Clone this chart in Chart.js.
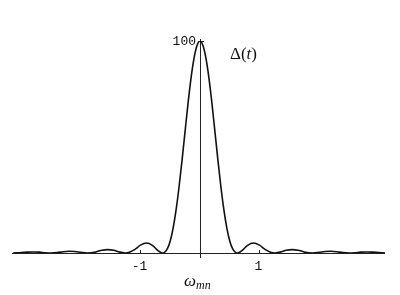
<!DOCTYPE html>
<html>
<head>
<meta charset="utf-8">
<script src="https://cdn.jsdelivr.net/npm/chart.js@4/dist/chart.umd.min.js"></script>
<style>
  html, body { margin: 0; padding: 0; background: #fff; }
  #wrap { width: 400px; height: 295px; }
</style>
</head>
<body>
<div id="wrap"><canvas id="chart" width="400" height="295"></canvas></div>
<script>
// values
const omega = [-3.14, -3.0, -2.9, -2.8, -2.7, -2.6, -2.51, -2.4, -2.3, -2.2, -2.1, -2.0, -1.89,
  -1.75, -1.65, -1.55, -1.45, -1.35, -1.26, -1.2, -1.1, -1.0, -0.9, -0.8, -0.7, -0.63,
  -0.6, -0.55, -0.5, -0.45, -0.4, -0.35, -0.3, -0.25, -0.2, -0.15, -0.1, -0.05,
  0,
  0.05, 0.1, 0.15, 0.2, 0.25, 0.3, 0.35, 0.4, 0.45, 0.5, 0.55, 0.6,
  0.63, 0.7, 0.8, 0.9, 1.0, 1.1, 1.2, 1.26, 1.35, 1.45, 1.55, 1.65, 1.75, 1.89,
  2.0, 2.1, 2.2, 2.3, 2.4, 2.51, 2.6, 2.7, 2.8, 2.9, 3.0, 3.11];
const delta = [0, 0.2, 0.4, 0.5, 0.4, 0.1, 0, 0.2, 0.6, 0.8, 0.7, 0.3, 0,
  0.5, 1.3, 1.6, 1.3, 0.4, 0, 0.2, 1.6, 3.7, 4.7, 3.6, 1.0, 0,
  0.2, 1.9, 5.7, 12.0, 20.7, 31.6, 44.2, 57.6, 70.8, 82.6, 91.9, 97.9,
  100,
  97.9, 91.9, 82.6, 70.8, 57.6, 44.2, 31.6, 20.7, 12.0, 5.7, 1.9, 0.2,
  0, 1.0, 3.6, 4.7, 3.7, 1.6, 0.2, 0, 0.4, 1.3, 1.6, 1.3, 0.5, 0,
  0.3, 0.7, 0.8, 0.6, 0.2, 0, 0.1, 0.4, 0.5, 0.4, 0.2, 0];
const xTicks = [-1, 1];
const xTickLabels = ['-1', '1'];
const yTicks = [100];
const yTickLabels = ['100'];
const xRange = [-3.16, 3.11];
const yRange = [0, 100];

const points = omega.map((w, i) => ({ x: w, y: delta[i] }));

// axes drawn through the chart scales, crossing at the origin
const axesPlugin = {
  id: 'axes',
  beforeDatasetsDraw(chart) {
    const ctx = chart.ctx;
    const xs = chart.scales.x, ys = chart.scales.y;
    const x0 = xs.getPixelForValue(0), y0 = ys.getPixelForValue(0);
    ctx.save();
    ctx.strokeStyle = '#222';
    ctx.lineWidth = 1;
    ctx.beginPath();
    ctx.moveTo(xs.left, y0 + 0.5);
    ctx.lineTo(xs.right, y0 + 0.5);
    ctx.moveTo(x0 + 0.5, ys.top - 2);
    ctx.lineTo(x0 + 0.5, y0 + 5);
    xTicks.forEach(t => {
      const px = Math.round(xs.getPixelForValue(t)) + 0.5;
      ctx.moveTo(px, y0);
      ctx.lineTo(px, y0 - 3);
    });
    yTicks.forEach(t => {
      const py = Math.round(ys.getPixelForValue(t)) + 0.5;
      ctx.moveTo(x0, py);
      ctx.lineTo(x0 + 4, py);
    });
    ctx.stroke();

    ctx.fillStyle = '#111';
    ctx.font = '13px "Liberation Mono", "DejaVu Sans Mono", monospace';
    ctx.textAlign = 'center';
    ctx.textBaseline = 'middle';
    xTicks.forEach((t, i) => {
      ctx.fillText(xTickLabels[i], xs.getPixelForValue(t) - 1, y0 + 14);
    });
    ctx.textAlign = 'right';
    yTicks.forEach((t, i) => {
      ctx.fillText(yTickLabels[i], x0 - 4, ys.getPixelForValue(t) + 1);
    });

    // axis titles
    ctx.textAlign = 'left';
    ctx.font = '17px "Liberation Serif", serif';
    ctx.fillText('\u0394(', 230, 55);
    const w1 = ctx.measureText('\u0394(').width;
    ctx.font = 'italic 17px "Liberation Serif", serif';
    ctx.fillText('t', 230 + w1, 55);
    const w2 = ctx.measureText('t').width;
    ctx.font = '17px "Liberation Serif", serif';
    ctx.fillText(')', 230 + w1 + w2, 55);

    ctx.font = 'italic 17px "Liberation Serif", serif';
    ctx.fillText('\u03c9', 184, 282);
    const w3 = ctx.measureText('\u03c9').width;
    ctx.font = 'italic 12px "Liberation Serif", serif';
    ctx.fillText('mn', 184 + w3, 286);
    ctx.restore();
  }
};

new Chart(document.getElementById('chart').getContext('2d'), {
  type: 'line',
  data: {
    datasets: [{
      data: points,
      borderColor: '#111',
      borderWidth: 1.6,
      pointRadius: 0,
      fill: false,
      cubicInterpolationMode: 'monotone'
    }]
  },
  options: {
    responsive: false,
    animation: false,
    events: [],
    layout: { padding: { left: 12, right: 15, top: 41, bottom: 42 } },
    plugins: { legend: { display: false }, tooltip: { enabled: false } },
    scales: {
      x: { type: 'linear', min: xRange[0], max: xRange[1], display: false },
      y: { type: 'linear', min: yRange[0], max: yRange[1], display: false }
    }
  },
  plugins: [axesPlugin]
});
</script>
</body>
</html>
